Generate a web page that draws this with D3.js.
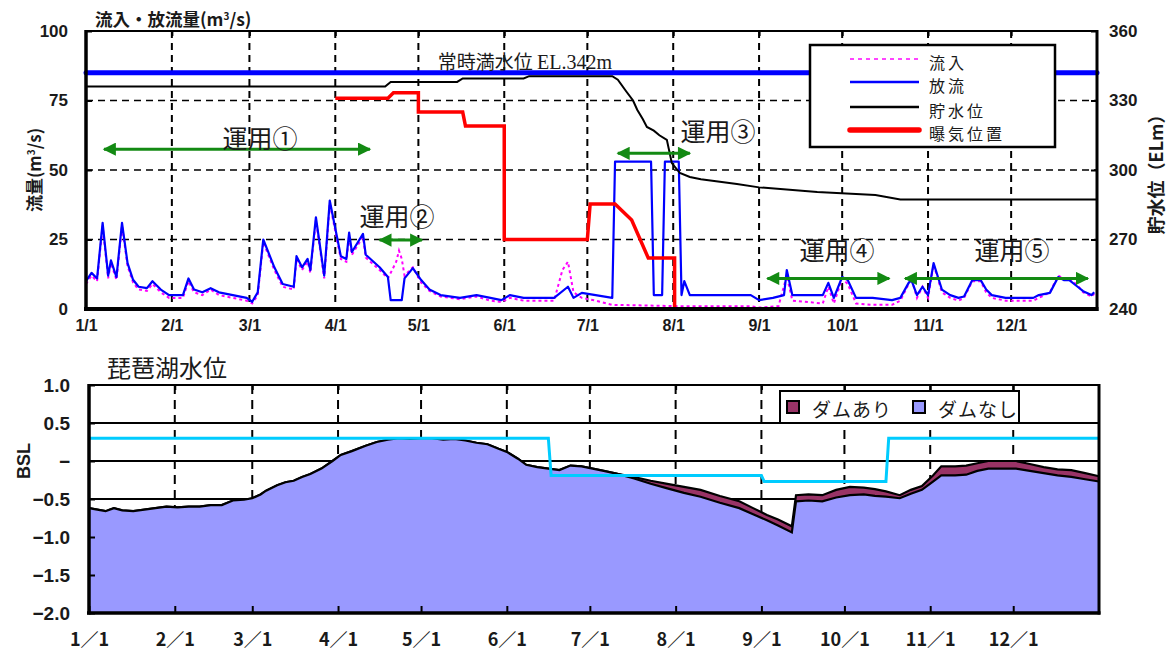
<!DOCTYPE html>
<html><head><meta charset="utf-8">
<script src="https://cdn.jsdelivr.net/npm/d3@7"></script>
<style>body{margin:0;background:#fff}svg{display:block}</style>
</head><body><svg id="c" width="1170" height="660"></svg>
<script>
// ---------------- DATA ----------------
// day-of-year: 0 = Jan 1
const monthStartDays = [0,31,59,90,120,151,181,212,243,273,304,334];
const monthLabels = ["1/1","2/1","3/1","4/1","5/1","6/1","7/1","8/1","9/1","10/1","11/1","12/1"];
const monthLabelsLake = ["1／1","2／1","3／1","4／1","5／1","6／1","7／1","8／1","9／1","10／1","11／1","12／1"];
const flowTicks = [0,25,50,75,100];
const levelTicks = [240,270,300,330,360];

const inflowDay   = [0,2,4,6,8,9,11,13,15,17,19,22,24,27,30,35,37,39,42,45,48,53,58,60,62,64,68,71,75,76,78,80,81,83,86,88,92,94,95,96,100,101,106,109,112,113,114,115,118,121,124,128,135,141,146,150,153,158,169,172,174,176,179,184,190,215,240,243,250,253,255,266,268,270,273,275,278,284,291,294,297,298,300,302,304,306,309,312,315,317,320,323,325,327,332,342,344,348,351,353,355,358,360,363,364];
const inflowValue = [9,12,10,30,11,16.5,10.5,30,15.5,9.5,7,6.5,9,6,4,4,10,6,5,7,5,4,3,2,5,24,14,8,7,18,14,17,13,32,11,38,18,17,26.5,19.5,26,18.5,14,11,17,21,18,12,15,9.5,6.5,4.5,3.5,4.5,3,2.5,4,3,3,14,17,6,4,3,1.5,1,1,0.5,1,12,3,2,8,2,11,9,2,1.5,1.5,3,9,11,4,8,4,16,6,4,3,4,10,10,6,4,3,3,4,6,12,11,11,8.5,6,4.5,5.5];

const outflowDay   = [0,2,4,6,8,9,11,13,15,17,19,22,24,27,30,35,37,39,42,45,48,53,58,60,62,64,68,71,75,76,78,80,81,83,86,88,92,94,95,96,100,101,106,109,110,114,115,118,121,124,128,135,141,146,150,153,158,169,174,176,179,184,190,191,204,205,208,209,214,215,216,218,240,243,248,252,253,255,266,268,270,273,275,278,284,291,294,297,298,300,302,304,306,309,312,315,317,320,323,325,327,332,342,344,348,351,353,355,358,360,363,364];
const outflowValue = [10,13,11,31,12,17.5,11.5,31,16.5,10.5,8,7.5,10,7,5,5,11,7,6,7.5,6,5,4,2.6,6,25,15,9,8,19,15,18,14,33,12,39,19,18,27.5,20.5,27,19.5,15,11.5,3.2,3.2,11,14.7,10.4,7,5,4,5,4,3.2,5,4,4,8,4,5.8,5,4,53,53,5,5,53,53,5,10,5,5,3.2,4,5,14,5,5,9.4,4,11.5,10.4,4,4,3.2,4,9.4,10.4,5,8,5,16.5,7,5,4,4.5,10.4,10.4,7,5,4,4,5,5.8,11.5,10.4,10.4,8,6.4,5,6];

const storageDay   = [0,108,110,134,136,158,160,190,192,195,197.5,199,201,202.5,205,207,209.7,211.5,214.4,218,222,235,243,264,285,294,365];
const storageLevel = [336,336,338,338,339.5,339.5,340.5,340.5,339,334,330,326,322,318.6,317,315,313,303,298.7,297,296,294,292.5,290.5,289.2,287.3,287.3];

const aerationDay   = [90,109,111,120,120,136,137,151,151,181,182,191,197,203,212.5,212.5];
const aerationLevel = [331,331,333.3,333.3,325,325,319,319,270,270,285.3,285.3,278.4,262,262,240];

const normalFullLevel = 342;

const opLabels   = ["運用①","運用②","運用③","運用④","運用⑤"];
const opStart    = [6.5,106,192,246,295.7];
const opEnd      = [102.5,121.3,218,290,361.7];
const opFlow     = [57.5,24.8,56,11,11];
const opTextDay  = [62.8,112.3,228.2,271.1,334.3];
const opTextFlow = [61.9,33.8,64.4,21.6,21.6];

const lakeDay    = [0,3,6,9,12,16,20,24,28,32,36,40,44,48,52,56,59,62,64,68,71,74,77,80,84,88,91,95,100,104,108,112,116,120,124,128,132,136,140,144,148,151,155,158,162,166,170,174,178,182,186,191,197,203,209,215,221,228,235,240,245,249,254,255.5,260,265,270,275,280,284,288,293,297,301,305,308,313,317,321,325,330,335,340,345,350,355,360,365];
const lakeNoDam  = [-0.62,-0.64,-0.66,-0.62,-0.65,-0.66,-0.64,-0.62,-0.60,-0.61,-0.60,-0.60,-0.58,-0.58,-0.52,-0.51,-0.49,-0.44,-0.39,-0.32,-0.28,-0.26,-0.21,-0.17,-0.10,0.0,0.08,0.13,0.20,0.25,0.28,0.30,0.29,0.30,0.30,0.28,0.29,0.27,0.24,0.22,0.16,0.12,0.03,-0.05,-0.08,-0.10,-0.12,-0.06,-0.07,-0.10,-0.13,-0.17,-0.23,-0.30,-0.36,-0.42,-0.47,-0.55,-0.62,-0.70,-0.78,-0.85,-0.94,-0.53,-0.52,-0.53,-0.48,-0.45,-0.44,-0.46,-0.47,-0.49,-0.43,-0.38,-0.27,-0.19,-0.19,-0.18,-0.13,-0.10,-0.10,-0.10,-0.13,-0.16,-0.19,-0.21,-0.24,-0.27];
const lakeWithDam= [-0.62,-0.64,-0.66,-0.62,-0.65,-0.66,-0.64,-0.62,-0.60,-0.61,-0.60,-0.60,-0.58,-0.58,-0.52,-0.51,-0.49,-0.44,-0.39,-0.32,-0.28,-0.26,-0.21,-0.17,-0.10,0.0,0.08,0.13,0.20,0.25,0.28,0.30,0.29,0.30,0.30,0.28,0.29,0.27,0.24,0.22,0.16,0.12,0.03,-0.05,-0.08,-0.10,-0.12,-0.06,-0.07,-0.10,-0.13,-0.17,-0.21,-0.26,-0.30,-0.34,-0.38,-0.46,-0.53,-0.62,-0.71,-0.77,-0.86,-0.45,-0.44,-0.45,-0.38,-0.34,-0.35,-0.37,-0.40,-0.45,-0.38,-0.33,-0.19,-0.07,-0.07,-0.06,-0.03,0.0,0.0,0.0,-0.04,-0.08,-0.11,-0.12,-0.16,-0.20];

const targetDay   = [0,166,167,243,244,288,289,365];
const targetLevel = [0.3,0.3,-0.19,-0.19,-0.27,-0.27,0.3,0.3];

const bslTicks = [1.0,0.5,0,-0.5,-1.0,-1.5,-2.0];
const bslTickLabels = ["1.0","0.5","−","−0.5","−1.0","−1.5","−2.0"];

// ---------------- DRAW ----------------
const JP = "'Noto Sans CJK JP','Noto Sans',sans-serif";
const NUM = "'Liberation Sans',Arial,sans-serif";
const TXT = "#1a1a1a";
const svg = d3.select("#c");
const T = {l:86, r:1097, t:31, b:309};
const B = {l:89, r:1099, t:385, b:613};

const xT = d3.scaleLinear().domain([0,365]).range([T.l,T.r]);
const yF = d3.scaleLinear().domain([0,100]).range([T.b,T.t]);
const yL = d3.scaleLinear().domain([240,360]).range([T.b,T.t]);
const xB = d3.scaleLinear().domain([0,365]).range([B.l,B.r]);
const yB = d3.scaleLinear().domain([-2,1]).range([B.b,B.t]);

// ---- top chart gridlines
const gTop = svg.append("g");
gTop.selectAll("line.v").data(monthStartDays.slice(1)).join("line")
  .attr("x1",d=>xT(d)).attr("x2",d=>xT(d)).attr("y1",T.t).attr("y2",T.b)
  .attr("stroke","#000").attr("stroke-width",2).attr("stroke-dasharray","7,5");
gTop.selectAll("line.h").data([25,50,75]).join("line")
  .attr("x1",T.l).attr("x2",T.r).attr("y1",d=>yF(d)).attr("y2",d=>yF(d))
  .attr("stroke","#000").attr("stroke-width",1.6).attr("stroke-dasharray","7,5");

// normal full water level
gTop.append("line").attr("x1",T.l).attr("x2",T.r)
  .attr("y1",yL(normalFullLevel)).attr("y2",yL(normalFullLevel))
  .attr("stroke","#0000FF").attr("stroke-width",5).attr("stroke-linecap","round");
const nfl = gTop.append("text").attr("x",xT(127)).attr("y",yL(normalFullLevel)-4)
  .attr("fill",TXT).attr("font-size",19).attr("font-family",JP);
nfl.append("tspan").text("常時満水位 ");
nfl.append("tspan").attr("font-family","'Liberation Serif',serif").attr("font-size",20).text("EL.342m");

// series
const lineF = d3.line().x(d=>xT(d[0])).y(d=>yF(d[1]));
const lineL = d3.line().x(d=>xT(d[0])).y(d=>yL(d[1]));
gTop.append("path").attr("d",lineF(d3.zip(inflowDay,inflowValue)))
  .attr("fill","none").attr("stroke","#FF00FF").attr("stroke-width",2).attr("stroke-dasharray","3,3");
gTop.append("path").attr("d",lineF(d3.zip(outflowDay,outflowValue)))
  .attr("fill","none").attr("stroke","#0000FF").attr("stroke-width",2.2).attr("stroke-linejoin","round");
gTop.append("path").attr("d",lineL(d3.zip(storageDay,storageLevel)))
  .attr("fill","none").attr("stroke","#000").attr("stroke-width",2);
gTop.append("path").attr("d",lineL(d3.zip(aerationDay,aerationLevel)))
  .attr("fill","none").attr("stroke","#FF0000").attr("stroke-width",3.5);

// operation arrows
const defs = svg.append("defs");
defs.append("marker").attr("id","ah").attr("viewBox","0 0 10 10").attr("refX",9).attr("refY",5)
  .attr("markerWidth",5).attr("markerHeight",4.4).attr("markerUnits","strokeWidth").attr("orient","auto-start-reverse")
  .append("path").attr("d","M0,0 L10,5 L0,10 z").attr("fill","#138a13");
opLabels.forEach((lab,i)=>{
  gTop.append("line").attr("x1",xT(opStart[i])).attr("x2",xT(opEnd[i]))
    .attr("y1",yF(opFlow[i])).attr("y2",yF(opFlow[i]))
    .attr("stroke","#138a13").attr("stroke-width",3)
    .attr("marker-start","url(#ah)").attr("marker-end","url(#ah)");
  gTop.append("text").attr("x",xT(opTextDay[i])).attr("y",yF(opTextFlow[i]))
    .attr("text-anchor","middle").attr("dominant-baseline","central")
    .attr("font-family",JP).attr("font-size",25).attr("fill",TXT).text(lab);
});

// legend (top)
const lg = svg.append("g");
lg.append("rect").attr("x",810).attr("y",45).attr("width",245).attr("height",102)
  .attr("fill","#fff").attr("stroke","#000").attr("stroke-width",2.5);
const legItems = [
  {t:"流入", c:"#FF44FF", w:2, dash:"4,4", y:59},
  {t:"放流", c:"#0000FF", w:2.5, dash:null, y:82},
  {t:"貯水位", c:"#000", w:2.5, dash:null, y:107},
  {t:"曝気位置", c:"#FF0000", w:5.5, dash:null, y:130}
];
legItems.forEach(it=>{
  const l = lg.append("line").attr("x1",850).attr("x2",919).attr("y1",it.y).attr("y2",it.y)
    .attr("stroke",it.c).attr("stroke-width",it.w).attr("stroke-linecap",it.w>4?"round":"butt");
  if(it.dash) l.attr("stroke-dasharray",it.dash);
  lg.append("text").attr("x",929).attr("y",it.y+3).attr("dominant-baseline","central")
    .attr("font-family",JP).attr("font-size",16).attr("letter-spacing",3).attr("fill",TXT).text(it.t);
});

// top axes
const axL = svg.append("g").attr("transform",`translate(${T.l},0)`)
  .call(d3.axisLeft(yF).tickValues(flowTicks).tickSize(-6).tickPadding(18));
const axR = svg.append("g").attr("transform",`translate(${T.r},0)`)
  .call(d3.axisRight(yL).tickValues(levelTicks).tickSize(-6).tickPadding(12));
const axB = svg.append("g").attr("transform",`translate(0,${T.b})`)
  .call(d3.axisBottom(xT).tickValues(monthStartDays).tickFormat((d,i)=>monthLabels[i]).tickSize(0).tickPadding(11));
const axTp = svg.append("g").attr("transform",`translate(0,${T.t})`)
  .call(d3.axisTop(xT).tickValues(monthStartDays.slice(1)).tickFormat("").tickSize(-5));
[axL,axR,axB,axTp].forEach(a=>{
  a.select(".domain").remove();
  a.selectAll("line").attr("stroke","#000").attr("stroke-width",2);
  a.selectAll("text").attr("font-family",NUM).attr("font-weight","bold").attr("font-size",17).attr("fill",TXT);
});
axB.selectAll("text").attr("font-size",16);
// frame
svg.append("line").attr("x1",T.l).attr("x2",T.r).attr("y1",T.t).attr("y2",T.t).attr("stroke","#000").attr("stroke-width",2);
svg.append("line").attr("x1",T.l).attr("x2",T.l).attr("y1",T.t-1).attr("y2",T.b+2).attr("stroke","#000").attr("stroke-width",3.5);
svg.append("line").attr("x1",T.r).attr("x2",T.r).attr("y1",T.t-1).attr("y2",T.b+2).attr("stroke","#000").attr("stroke-width",3);
svg.append("line").attr("x1",T.l-2).attr("x2",T.r+1.5).attr("y1",T.b).attr("y2",T.b).attr("stroke","#000").attr("stroke-width",4);

// top titles
const ttl = svg.append("text").attr("x",95).attr("y",26).attr("font-family",JP).attr("font-weight","bold")
  .attr("font-size",17.5).attr("fill",TXT);
ttl.append("tspan").text("流入・放流量(m");
ttl.append("tspan").attr("font-size",10).attr("dy",-6).text("3");
ttl.append("tspan").attr("dy",6).text("/s)");
const ylab = svg.append("text").attr("transform","translate(41,170) rotate(-90)")
  .attr("text-anchor","middle").attr("font-family",JP).attr("font-weight","bold").attr("font-size",17).attr("fill",TXT);
ylab.append("tspan").text("流量(m");
ylab.append("tspan").attr("font-size",10).attr("dy",-6).text("3");
ylab.append("tspan").attr("dy",6).text("/s)");
svg.append("text").attr("transform","translate(1163,170) rotate(-90)")
  .attr("text-anchor","middle").attr("font-family",JP).attr("font-weight","bold").attr("font-size",18).attr("fill",TXT)
  .text("貯水位（ELm）");

// ---------------- BOTTOM CHART ----------------
const gB = svg.append("g");
gB.selectAll("line.h").data([0.5,0,-0.5,-1,-1.5]).join("line")
  .attr("x1",B.l).attr("x2",B.r).attr("y1",d=>yB(d)).attr("y2",d=>yB(d))
  .attr("stroke","#000").attr("stroke-width",1.8);
gB.selectAll("line.v").data(monthStartDays.slice(1)).join("line")
  .attr("x1",d=>xB(d)).attr("x2",d=>xB(d)).attr("y1",B.t).attr("y2",B.b)
  .attr("stroke","#000").attr("stroke-width",2).attr("stroke-dasharray","9,6");

const areaW = d3.area().x(d=>xB(d[0])).y0(yB(-2)).y1(d=>yB(d[1]));
const lineW = d3.line().x(d=>xB(d[0])).y(d=>yB(d[1]));
const withD = d3.zip(lakeDay,lakeWithDam), noD = d3.zip(lakeDay,lakeNoDam);
gB.append("path").attr("d",areaW(withD)).attr("fill","#993366");
gB.append("path").attr("d",lineW(withD)).attr("fill","none").attr("stroke","#000").attr("stroke-width",2.2);
gB.append("path").attr("d",areaW(noD)).attr("fill","#9999FF");
gB.append("path").attr("d",lineW(noD)).attr("fill","none").attr("stroke","#000").attr("stroke-width",2.2);
gB.append("path").attr("d",lineW(d3.zip(targetDay,targetLevel))).attr("fill","none")
  .attr("stroke","#00CCFF").attr("stroke-width",3);

// bottom axes
const bL = svg.append("g").attr("transform",`translate(${B.l},0)`)
  .call(d3.axisLeft(yB).tickValues(bslTicks).tickFormat((d,i)=>bslTickLabels[i]).tickSize(-6).tickPadding(19));
const bB = svg.append("g").attr("transform",`translate(0,${B.b})`)
  .call(d3.axisBottom(xB).tickValues(monthStartDays).tickFormat((d,i)=>monthLabelsLake[i]).tickSize(-7).tickPadding(20));
const bT = svg.append("g").attr("transform",`translate(0,${B.t})`)
  .call(d3.axisTop(xB).tickValues(monthStartDays.slice(1)).tickFormat("").tickSize(-5));
[bL,bB,bT].forEach(a=>{
  a.select(".domain").remove();
  a.selectAll("line").attr("stroke","#000").attr("stroke-width",2);
  a.selectAll("text").attr("font-family",NUM).attr("font-weight","bold").attr("font-size",19).attr("fill",TXT);
});
bB.selectAll("text").attr("font-family","'Noto Sans CJK JP',sans-serif").attr("font-size",18);
svg.append("line").attr("x1",B.l).attr("x2",B.r).attr("y1",B.t).attr("y2",B.t).attr("stroke","#000").attr("stroke-width",2);
svg.append("line").attr("x1",B.l).attr("x2",B.l).attr("y1",B.t-1).attr("y2",B.b+1.5).attr("stroke","#000").attr("stroke-width",3.5);
svg.append("line").attr("x1",B.r).attr("x2",B.r).attr("y1",B.t-1).attr("y2",B.b+1.5).attr("stroke","#000").attr("stroke-width",3);
svg.append("line").attr("x1",B.l-2).attr("x2",B.r+1.5).attr("y1",B.b).attr("y2",B.b).attr("stroke","#000").attr("stroke-width",3.5);

// bottom legend
const bl = svg.append("g");
bl.append("rect").attr("x",780).attr("y",391).attr("width",239).attr("height",32)
  .attr("fill","#fff").attr("stroke","#000").attr("stroke-width",2);
[{t:"ダムあり",c:"#993366",x:787},{t:"ダムなし",c:"#9999FF",x:913}].forEach(it=>{
  bl.append("rect").attr("x",it.x).attr("y",401).attr("width",12).attr("height",12)
    .attr("fill",it.c).attr("stroke","#000").attr("stroke-width",2);
  bl.append("text").attr("x",it.x+25).attr("y",408).attr("dominant-baseline","central")
    .attr("font-family",JP).attr("font-size",19).attr("letter-spacing",1).attr("fill",TXT).text(it.t);
});

// bottom titles
svg.append("text").attr("x",107).attr("y",377).attr("font-family",JP).attr("font-size",24).attr("fill",TXT).text("琵琶湖水位");
svg.append("text").attr("transform",`translate(30,${yB(0)}) rotate(-90)`).attr("text-anchor","middle")
  .attr("font-family",NUM).attr("font-weight","bold").attr("font-size",18).attr("fill",TXT).text("BSL");
</script></body></html>
